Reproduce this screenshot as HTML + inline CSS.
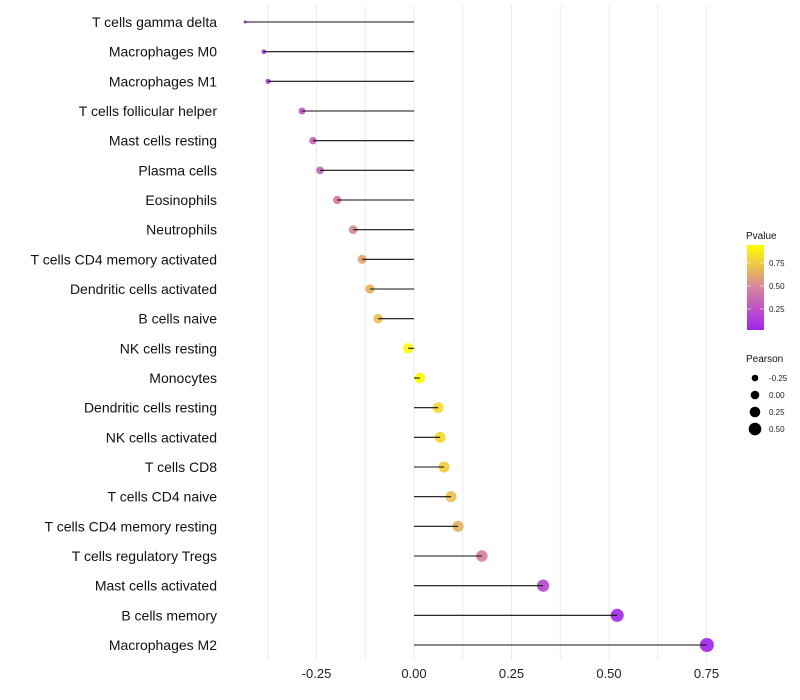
<!DOCTYPE html>
<html><head><meta charset="utf-8">
<style>
body{margin:0;background:#fff;}
svg{display:block;font-family:"Liberation Sans",Arial,sans-serif;}
</style></head>
<body>
<svg id="chart" width="800" height="700"></svg>
<script>
const categories=["T cells gamma delta","Macrophages M0","Macrophages M1","T cells follicular helper","Mast cells resting","Plasma cells","Eosinophils","Neutrophils","T cells CD4 memory activated","Dendritic cells activated","B cells naive","NK cells resting","Monocytes","Dendritic cells resting","NK cells activated","T cells CD8","T cells CD4 naive","T cells CD4 memory resting","T cells regulatory  Tregs","Mast cells activated","B cells memory","Macrophages M2"];
const pearson=[-0.433,-0.385,-0.374,-0.287,-0.259,-0.241,-0.197,-0.156,-0.133,-0.113,-0.092,-0.015,0.015,0.062,0.067,0.077,0.095,0.113,0.174,0.331,0.521,0.751];
const pvalues=[0.05,0.08,0.08,0.3,0.35,0.36,0.45,0.55,0.65,0.7,0.75,0.97,0.98,0.85,0.85,0.8,0.75,0.7,0.5,0.2,0.05,0.03];
const xTicks=[-0.25,0,0.25,0.5,0.75];
const xTickLabels=["-0.25","0.00","0.25","0.50","0.75"];
const pLegendTicks=[0.25,0.5,0.75];
const pLegendLabels=["0.25","0.50","0.75"];
const sizeLegend=[-0.25,0,0.25,0.5];
const sizeLegendLabels=["-0.25","0.00","0.25","0.50"];

const NS="http://www.w3.org/2000/svg";
const svg=document.getElementById('chart');
function mk(t,a,p){const e=document.createElementNS(NS,t);for(const k in a)e.setAttribute(k,a[k]);(p||svg).appendChild(e);return e;}
const x=v=>414+v*390;
const y=i=>22+i*(623/(categories.length-1));
// size scale: area interpolated (style knots)
const sk=[[-0.433,2.25],[-0.287,12.25],[0,28],[0.75,49]];
function rad(v){
 if(v<=sk[0][0])return Math.sqrt(sk[0][1]);
 for(let i=1;i<sk.length;i++){if(v<=sk[i][0]||i==sk.length-1){const t=(v-sk[i-1][0])/(sk[i][0]-sk[i-1][0]);return Math.sqrt(Math.max(1,sk[i-1][1]+t*(sk[i][1]-sk[i-1][1])));}}
}
function lerp(a,b,t){return a.map((c,i)=>Math.round(c+(b[i]-c)*t));}
function col(p){const s=[[0,[160,32,240]],[0.5,[214,128,160]],[1,[255,255,0]]];
 let c=p<=0.5?lerp(s[0][1],s[1][1],p/0.5):lerp(s[1][1],s[2][1],(p-0.5)/0.5);return `rgb(${c})`;}

for(let g=-0.375;g<=0.76;g+=0.125){
 const gl=mk('line',{x1:x(g),x2:x(g),y1:5,y2:660,stroke:'#ececec','stroke-width':1});
 
 
}
xTicks.forEach((t,i)=>{
 const tx=mk('text',{x:x(t),y:678,'text-anchor':'middle','font-size':13,fill:'#222'});
 tx.textContent=xTickLabels[i];
 
 
});
categories.forEach((c,i)=>{
 const lb=mk('text',{x:217,y:y(i)+5,'text-anchor':'end','font-size':14,fill:'#111'});
 lb.textContent=c;
 
 
 const pt=mk('circle',{cx:x(pearson[i]),cy:y(i),r:rad(pearson[i]),fill:col(pvalues[i]),'fill-opacity':0.92});
 
 
 const sg=mk('line',{x1:x(0),x2:x(pearson[i]),y1:y(i),y2:y(i),stroke:'#111','stroke-width':1.1});
 
 
});
const lt=mk('text',{x:746,y:239,'font-size':10,fill:'#111'});lt.textContent='Pvalue';


const defs=mk('defs',{});
const gr=mk('linearGradient',{id:'pg',x1:0,y1:1,x2:0,y2:0},defs);
[0,0.25,0.5,0.75,1].forEach(f=>mk('stop',{offset:f,'stop-color':col(0.02+f*0.98)},gr));
const bar=mk('rect',{x:747,y:245,width:17,height:85,fill:'url(#pg)'});


pLegendTicks.forEach((t,i)=>{
 const yy=332-t*92;
 mk('line',{x1:747,x2:751,y1:yy,y2:yy,stroke:'#fff','stroke-opacity':0.6});
 mk('line',{x1:760,x2:764,y1:yy,y2:yy,stroke:'#fff','stroke-opacity':0.6});
 const tt=mk('text',{x:769,y:yy+3,'font-size':8,fill:'#222'});tt.textContent=pLegendLabels[i];
 
 
});
const st=mk('text',{x:746,y:362,'font-size':10,fill:'#111'});st.textContent='Pearson';


sizeLegend.forEach((v,i)=>{
 const yy=378+i*17;
 const c=mk('circle',{cx:755,cy:yy,r:4.3+4*v,fill:'#000'});
 
 
 const tt=mk('text',{x:769,y:yy+3,'font-size':8,fill:'#222'});tt.textContent=sizeLegendLabels[i];
 
 
});
</script>
</body></html>
